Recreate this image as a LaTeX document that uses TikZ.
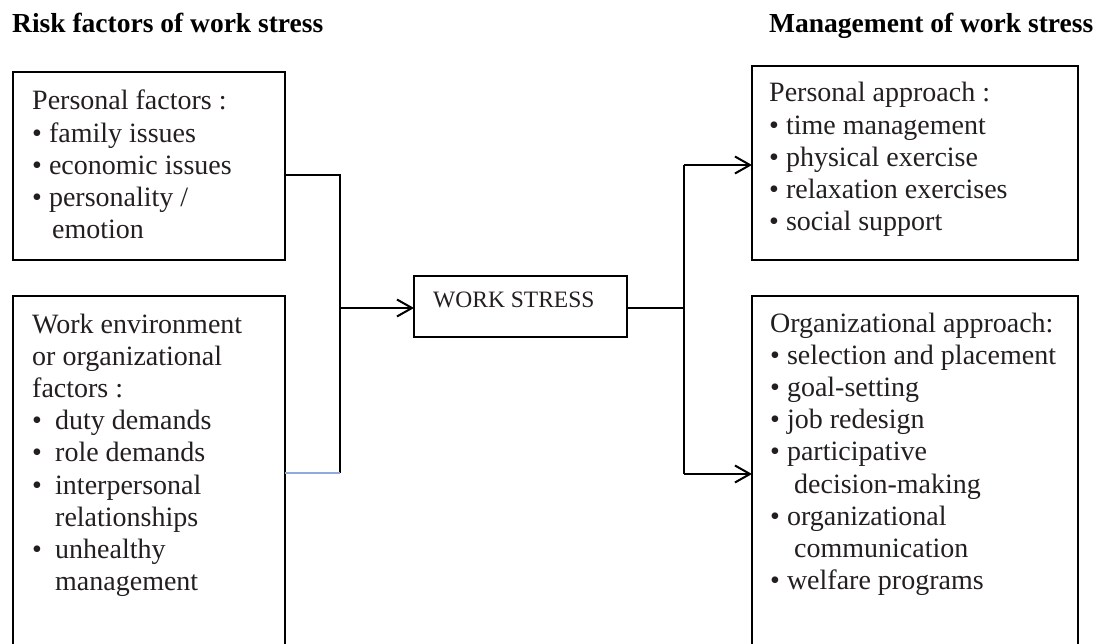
\documentclass[tikz,border=0pt]{standalone}
\usepackage{fontspec}
\setmainfont{Liberation Serif}
\usetikzlibrary{arrows.meta}
\definecolor{txtcol}{RGB}{35,31,32}
\definecolor{blueline}{RGB}{143,170,220}
\tikzset{
  box/.style={draw=black, line width=1.6pt, inner sep=0pt, outer sep=0pt, anchor=north west, fill=none},
  boxtext/.style={anchor=base west, align=left, inner sep=0pt, text=txtcol, font=\fontsize{28}{32.2}\selectfont},
  heading/.style={anchor=base west, inner sep=0pt, text=black, font=\fontsize{27.5}{30}\selectfont\bfseries},
  conn/.style={draw=black, line width=1.1pt},
  bconn/.style={draw=blueline, line width=1.3pt},
  arrowconn/.style={draw=black, line width=2pt, -{Straight Barb[length=15pt,width=17pt,line width=2pt]}},
}
\begin{document}
\begin{tikzpicture}[x=1pt,y=-1pt]
\useasboundingbox (0,0) rectangle (1117,644);
% headings
\node[heading] (h1) at (12,33) {Risk factors of work stress};
\node[heading] (h2) at (769,33) {Management of work stress};
% boxes
\node[box, minimum width=272pt, minimum height=188pt] (pf) at (13,72) {};
\node[box, minimum width=272pt, minimum height=350pt] (wf) at (13,296) {};
\node[box, minimum width=213pt, minimum height=61pt] (ws) at (414,276) {};
\node[box, minimum width=326pt, minimum height=194pt] (pa) at (752,66) {};
\node[box, minimum width=326pt, minimum height=350pt] (oa) at (752,296) {};
% texts (anchored at the baseline of their last line)
\node[boxtext] (pft) at (32,238.8) {Personal factors :\\
\textbullet\ family issues\\
\textbullet\ economic issues\\
\textbullet\ personality /\\
\hspace*{20pt}emotion};
\node[boxtext] (wft) at (32,590.6) {Work environment\\
or organizational\\
factors :\\
\makebox[23pt][l]{\textbullet}duty demands\\
\makebox[23pt][l]{\textbullet}role demands\\
\makebox[23pt][l]{\textbullet}interpersonal\\
\hspace*{23pt}relationships\\
\makebox[23pt][l]{\textbullet}unhealthy\\
\hspace*{23pt}management};
\node[anchor=base west, inner sep=0pt, text=txtcol, font=\fontsize{23.5}{26}\selectfont] (wst) at (433,308) {WORK STRESS};
\node[boxtext] (pat) at (769,230.8) {Personal approach :\\
\textbullet\ time management\\
\textbullet\ physical exercise\\
\textbullet\ relaxation exercises\\
\textbullet\ social support};
\node[boxtext] (oat) at (770,589.6) {Organizational approach:\\
\textbullet\ selection and placement\\
\textbullet\ goal-setting\\
\textbullet\ job redesign\\
\textbullet\ participative\\
\hspace*{24pt}decision-making\\
\textbullet\ organizational\\
\hspace*{24pt}communication\\
\textbullet\ welfare programs};
% junctions
\coordinate (jt) at (340,175);
\coordinate (jl) at (340,308);
\coordinate (jb) at (340,473);
\coordinate (rt) at (684,165);
\coordinate (jr) at (684,308);
\coordinate (rb) at (684,474);
% connectors
\draw[conn] (pf.east |- jt) -- (jt) -- (jb);
\draw[bconn] (wf.east |- jb) -- (jb);
\draw[arrowconn] (jl) -- (ws.west |- jl);
\draw[conn] (ws.east |- jr) -- (jr);
\draw[conn] (rt) -- (rb);
\draw[arrowconn] (rt) -- (pa.west |- rt);
\draw[arrowconn] (rb) -- (oa.west |- rb);
\end{tikzpicture}
\end{document}
